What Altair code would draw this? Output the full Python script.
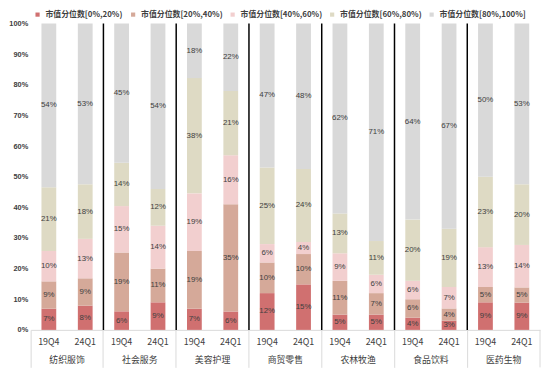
import altair as alt
import pandas as pd

groups = ["纺织服饰", "社会服务", "美容护理", "商贸零售", "农林牧渔", "食品饮料", "医药生物"]
periods = ["19Q4", "24Q1"]
series = ["市值分位数[0%,20%)", "市值分位数[20%,40%)", "市值分位数[40%,60%)",
          "市值分位数[60%,80%)", "市值分位数[80%,100%]"]
colors = ["#D07070", "#D5A999", "#F2CFCF", "#DEDAC4", "#D9D9D9"]
y_ticks = [0, 0.1, 0.2, 0.3, 0.4, 0.5, 0.6, 0.7, 0.8, 0.9, 1.0]

# values per series, ordered (group, period): 19Q4, 24Q1 for each group
s0 = [7, 8, 6, 9, 7, 6, 12, 15, 5, 5, 4, 3, 9, 9]
s1 = [9, 9, 19, 11, 19, 35, 10, 10, 11, 7, 6, 4, 5, 5]
s2 = [10, 13, 15, 14, 19, 16, 6, 4, 9, 6, 6, 7, 13, 14]
s3 = [21, 18, 14, 12, 38, 21, 25, 24, 13, 11, 20, 19, 23, 20]
s4 = [54, 53, 45, 54, 18, 22, 47, 48, 62, 71, 64, 67, 50, 53]

rows = []
for si, (name, vals) in enumerate(zip(series, [s0, s1, s2, s3, s4])):
    for k, v in enumerate(vals):
        rows.append({"group": groups[k // 2], "period": periods[k % 2], "series": name,
                     "order": si, "value": v, "label": f"{v}%"})
df = pd.DataFrame(rows)
cats = pd.DataFrame([{"group": g, "period": p} for g in groups for p in periods])
grp_df = pd.DataFrame({"group": groups})
sep_df = pd.DataFrame({"group": groups[1:]})

W, H = 517, 311
BOT = 38
CJK = "Noto Sans CJK SC"

x_enc = alt.X("group:N", sort=groups, title=None,
              scale=alt.Scale(paddingInner=0, paddingOuter=0),
              axis=alt.Axis(labels=False, bandPosition=0, domainColor="#D9D9D9",
                            tickColor="#D9D9D9", tickSize=BOT, grid=False))
x_plain = alt.X("group:N", sort=groups)
xoff = alt.XOffset("period:N", sort=periods, scale=alt.Scale(paddingInner=0, paddingOuter=0))

y_axis = alt.Axis(format=".0%", values=y_ticks, grid=False, title=None,
                  domain=False, ticks=False, labelFontSize=7.5, labelFontWeight="bold",
                  labelColor="#404040", labelPadding=3, labelOverlap=False,
                  labelFont="Liberation Sans")
y_scale = alt.Scale(domain=[0, 1], nice=False)

bars = alt.Chart(df).mark_bar(size=15).encode(
    x=x_enc,
    xOffset=xoff,
    y=alt.Y("value:Q", stack="normalize", title=None, scale=y_scale, axis=y_axis),
    color=alt.Color("series:N", sort=series,
                    scale=alt.Scale(domain=series, range=colors),
                    legend=alt.Legend(orient="none", legendX=3, legendY=-13,
                                      direction="horizontal", title=None,
                                      symbolType="square", symbolSize=18,
                                      symbolStrokeWidth=0, labelFontSize=8,
                                      labelFontWeight="bold",
                                      labelFont=CJK, labelColor="#404040",
                                      columnPadding=6, labelOffset=4)),
    order=alt.Order("order:Q"),
)

text = alt.Chart(df).transform_stack(
    stack="value", groupby=["group", "period"], as_=["v0", "v1"],
    offset="normalize", sort=[alt.SortField("order")]
).transform_calculate(mid="(datum.v0 + datum.v1) / 2").mark_text(
    fontSize=8, color="#404040", font="Liberation Sans"
).encode(x=x_plain, xOffset=xoff,
         y=alt.Y("mid:Q", title=None, scale=y_scale, axis=y_axis),
         text="label:N")

seps = alt.Chart(sep_df).mark_rule(color="black", strokeWidth=1.5).encode(
    x=alt.X("group:N", sort=groups, bandPosition=0),
    y=alt.value(0), y2=alt.value(H))

end_line = alt.Chart(grp_df.head(1)).mark_rule(color="#D9D9D9").encode(
    x=alt.value(W), y=alt.value(H), y2=alt.value(H + BOT))

period_text = alt.Chart(cats).mark_text(fontSize=9, font=CJK, color="#404040",
                                        baseline="middle").encode(
    x=x_plain, xOffset=xoff, y=alt.value(H + 12), text="period:N")

group_text = alt.Chart(grp_df).mark_text(fontSize=9, font=CJK, color="#404040",
                                         baseline="middle").encode(
    x=x_plain, y=alt.value(H + 31), text="group:N")

chart = alt.layer(bars, text, seps, end_line, period_text, group_text).properties(
    width=W, height=H,
    padding={"left": 23, "top": 13, "right": 2, "bottom": BOT},
    autosize=alt.AutoSizeParams(type="none"),
).configure_view(stroke=None)

chart.save("out.html", embed_options={"renderer": "svg", "actions": False})
